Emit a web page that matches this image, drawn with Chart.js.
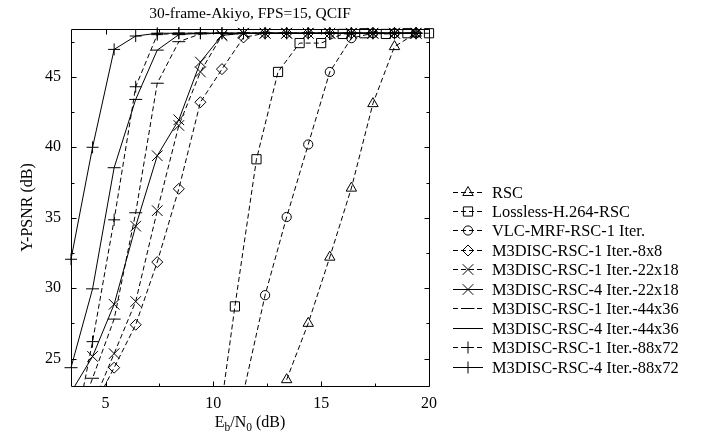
<!DOCTYPE html>
<html>
<head>
<meta charset="utf-8">
<script src="https://cdn.jsdelivr.net/npm/chart.js@4.4.1/dist/chart.umd.min.js"></script>
<style>
  html, body { margin: 0; padding: 0; background: #fff; }
  canvas { display: block; }
</style>
</head>
<body>
<canvas id="chart" width="707" height="434"></canvas>
<script>
// Eb/N0 operating points (dB)
const ebNo = [3.4, 4.4, 5.4, 6.4, 7.4, 8.4, 9.4, 10.4, 11.4, 12.4, 13.4, 14.4, 15.4, 16.4, 17.4, 18.4, 19.4];
const ebNoLossless = [10, 11, 12, 13, 14, 15, 16, 17, 18, 19, 20];

// Y-PSNR (dB) per scheme; null = not simulated at that point
const rsc          = [null, null, null, null, null, null, null, null, null, null, 23.5, 27.5, 32.2, 37.1, 43.1, 47.15, 48.1];
const losslessRsc  = [17.5, 28.7, 39.15, 45.35, 47.4, 47.4, 48.05, 48.1, 48.05, 48.1, 48.1];
const vlcMrf1      = [null, null, null, null, null, null, null, null, 22.6, 29.5, 35.05, 40.2, 45.35, 47.75, 48.1, 48.1, 48.1];
const m3disc1_8x8  = [null, 21.4, 24.35, 27.4, 31.85, 37.05, 43.2, 45.55, 47.8, 48.1, 48.1, 48.1, 48.1, 48.1, 48.1, 48.1, 48.1];
const m3disc1_22x18 = [null, 21.7, 25.35, 29.05, 35.5, 41.55, 45.35, 47.95, 48.1, 48.1, 48.1, 48.1, 48.1, 48.1, 48.1, 48.1, 48.1];
const m3disc4_22x18 = [22.6, 25.15, 28.85, 34.4, 39.4, 41.95, 46.05, 47.95, 48.1, 48.1, 48.1, 48.1, 48.1, 48.1, 48.1, 48.1, 48.1];
const m3disc1_44x36 = [19.5, 23.6, 27.8, 35.35, 44.55, 47.5, 48.05, 48.1, 48.1, 48.1, 48.1, 48.1, 48.1, 48.1, 48.1, 48.1, 48.1];
const m3disc4_44x36 = [24.35, 29.95, 38.55, 43.4, 46.9, 48.0, 48.1, 48.1, 48.1, 48.1, 48.1, 48.1, 48.1, 48.1, 48.1, 48.1, 48.1];
const m3disc1_88x72 = [18.5, 26.2, 34.85, 44.3, 48.0, 48.1, 48.1, 48.1, 48.1, 48.1, 48.1, 48.1, 48.1, 48.1, 48.1, 48.1, 48.1];
const m3disc4_88x72 = [32.05, 40.0, 46.95, 47.9, 48.1, 48.1, 48.1, 48.1, 48.1, 48.1, 48.1, 48.1, 48.1, 48.1, 48.1, 48.1, 48.1];

const seriesNames = [
  'RSC',
  'Lossless-H.264-RSC',
  'VLC-MRF-RSC-1 Iter.',
  'M3DISC-RSC-1 Iter.-8x8',
  'M3DISC-RSC-1 Iter.-22x18',
  'M3DISC-RSC-4 Iter.-22x18',
  'M3DISC-RSC-1 Iter.-44x36',
  'M3DISC-RSC-4 Iter.-44x36',
  'M3DISC-RSC-1 Iter.-88x72',
  'M3DISC-RSC-4 Iter.-88x72'
];
const seriesX = [ebNo, ebNoLossless, ebNo, ebNo, ebNo, ebNo, ebNo, ebNo, ebNo, ebNo];
const seriesY = [rsc, losslessRsc, vlcMrf1, m3disc1_8x8, m3disc1_22x18, m3disc4_22x18,
                 m3disc1_44x36, m3disc4_44x36, m3disc1_88x72, m3disc4_88x72];

const xTicks = [5, 10, 15, 20];
const xMinorTicks = [7.5, 12.5, 17.5];
const yTicks = [25, 30, 35, 40, 45];
const yMinorTicks = [27.5, 32.5, 37.5, 42.5, 47.5];

const chartTitle = '30-frame-Akiyo, FPS=15, QCIF';
const yTitle = 'Y-PSNR (dB)';

// line / marker look for each scheme
const DASH = [5, 3];
const looks = [
  { dash: DASH, marker: 'triangle', r: 6 },
  { dash: DASH, marker: 'rect', r: 6.5 },
  { dash: DASH, marker: 'circle', r: 4.6 },
  { dash: DASH, marker: 'rectRot', r: 5.5 },
  { dash: DASH, marker: 'crossRot', r: 7.5 },
  { dash: [], marker: 'crossRot', r: 7.5 },
  { dash: DASH, marker: 'line', r: 6.5 },
  { dash: [], marker: 'line', r: 6.5 },
  { dash: DASH, marker: 'cross', r: 6 },
  { dash: [], marker: 'cross', r: 6 }
];

const FONT = "'Liberation Serif', 'DejaVu Serif', serif";
Chart.defaults.font.family = FONT;
Chart.defaults.font.size = 16;
Chart.defaults.color = '#000';

const datasets = seriesNames.map((name, i) => ({
  label: name,
  data: seriesX[i]
    .map((x, k) => ({ x: x, y: seriesY[i][k] }))
    .filter(p => p.y !== null),
  borderColor: '#000',
  borderWidth: 1,
  borderDash: looks[i].dash,
  backgroundColor: 'rgba(0,0,0,0)',
  pointStyle: looks[i].marker,
  pointRadius: looks[i].r,
  pointBorderWidth: 1,
  pointBorderColor: '#000',
  pointBackgroundColor: 'rgba(0,0,0,0)',
  tension: 0,
  fill: false,
  clip: { left: 10, top: 10, right: 10, bottom: 0 }
}));

// frame with inward ticks on all sides, titles and key
const decorations = {
  id: 'decorations',
  afterDraw(chart) {
    const { ctx, chartArea: a, scales: { x, y } } = chart;
    const L = Math.round(a.left) + 0.5, R = Math.round(a.right) + 0.5;
    const T = Math.round(a.top) + 0.5, B = Math.round(a.bottom) + 0.5;
    ctx.save();
    ctx.strokeStyle = '#000';
    ctx.lineWidth = 1;
    ctx.setLineDash([]);
    ctx.beginPath();
    ctx.rect(L, T, R - L, B - T);
    const xt = (v, len) => {
      const px = Math.round(x.getPixelForValue(v)) + 0.5;
      ctx.moveTo(px, B); ctx.lineTo(px, B - len);
      ctx.moveTo(px, T); ctx.lineTo(px, T + len);
    };
    const yt = (v, len) => {
      const py = Math.round(y.getPixelForValue(v)) + 0.5;
      ctx.moveTo(L, py); ctx.lineTo(L + len, py);
      ctx.moveTo(R, py); ctx.lineTo(R - len, py);
    };
    xTicks.forEach(v => xt(v, 5));
    xMinorTicks.forEach(v => xt(v, 3));
    yTicks.forEach(v => yt(v, 5));
    yMinorTicks.forEach(v => yt(v, 3));
    ctx.stroke();

    ctx.fillStyle = '#000';
    const cx = (a.left + a.right) / 2;
    // title
    ctx.font = '15.5px ' + FONT;
    ctx.textAlign = 'center';
    ctx.textBaseline = 'alphabetic';
    ctx.fillText(chartTitle, cx, 18);

    // y title
    ctx.save();
    ctx.translate(32, (a.top + a.bottom) / 2);
    ctx.rotate(-Math.PI / 2);
    ctx.font = '16px ' + FONT;
    ctx.textAlign = 'center';
    ctx.fillText(yTitle, 0, 0);
    ctx.restore();

    // x title: E_b/N_0 (dB)
    const big = '16px ' + FONT, small = '11.5px ' + FONT;
    const parts = [['E', big, 0], ['b', small, 4], ['/N', big, 0], ['0', small, 4], [' (dB)', big, 0]];
    let w = 0;
    parts.forEach(p => { ctx.font = p[1]; w += ctx.measureText(p[0]).width; });
    let px = cx - w / 2;
    ctx.textAlign = 'left';
    parts.forEach(p => {
      ctx.font = p[1];
      ctx.fillText(p[0], px, 427 + p[2]);
      px += ctx.measureText(p[0]).width;
    });

    // key
    const keyTop = 191.5, keyStep = 19.45, x0 = 453, x1 = 483, tx = 492;
    chart.data.datasets.forEach((ds, i) => {
      const yy = Math.round(keyTop + i * keyStep) + 0.5;
      ctx.beginPath();
      ctx.setLineDash(ds.borderDash);
      ctx.moveTo(x0, yy); ctx.lineTo(x1, yy);
      ctx.stroke();
      ctx.setLineDash([]);
      ctx.fillStyle = 'rgba(0,0,0,0)';
      Chart.helpers.drawPoint(ctx, { pointStyle: ds.pointStyle, radius: ds.pointRadius, rotation: 0, borderWidth: 1 }, (x0 + x1) / 2, yy);
      ctx.fillStyle = '#000';
      ctx.font = '16.4px ' + FONT;
      ctx.textAlign = 'left';
      ctx.textBaseline = 'middle';
      ctx.fillText(ds.label, tx, yy + 1);
    });
    ctx.restore();
  }
};

new Chart(document.getElementById('chart'), {
  type: 'line',
  data: { datasets: datasets },
  options: {
    responsive: false,
    animation: false,
    devicePixelRatio: 1,
    layout: { padding: { top: 29, right: 278, left: 0, bottom: 0 } },
    plugins: {
      legend: { display: false },
      title: { display: false },
      tooltip: { enabled: false }
    },
    scales: {
      x: {
        type: 'linear',
        min: 3.4,
        max: 20,
        grid: { display: false, drawTicks: false },
        border: { display: false },
        ticks: { padding: 8, maxRotation: 0, font: { size: 16 } },
        afterBuildTicks: s => { s.ticks = xTicks.map(v => ({ value: v })); },
        afterFit: s => { s.height = 48; }
      },
      y: {
        type: 'linear',
        min: 23.05,
        max: 48.4,
        grid: { display: false, drawTicks: false },
        border: { display: false },
        ticks: { padding: 10, font: { size: 16 } },
        afterBuildTicks: s => { s.ticks = yTicks.map(v => ({ value: v })); },
        afterFit: s => { s.width = 71; }
      }
    }
  },
  plugins: [decorations]
});
</script>
</body>
</html>
